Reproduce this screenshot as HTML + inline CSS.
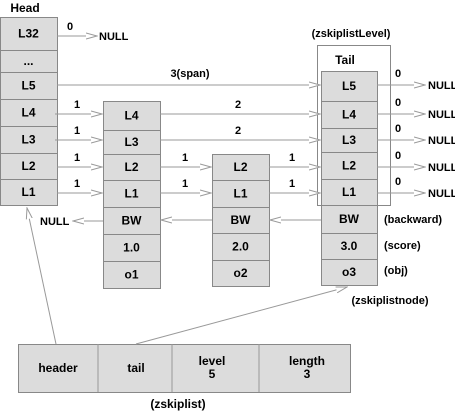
<!DOCTYPE html>
<html><head><meta charset="utf-8"><style>
body{margin:0;background:#fff}
svg text{font-family:"Liberation Sans",sans-serif;font-weight:bold;font-size:11px;fill:#000}
svg text.cl{font-size:12px}
</style></head><body>
<svg width="455" height="413" viewBox="0 0 455 413">
<defs>
<marker id="ah" markerWidth="12" markerHeight="8" refX="11" refY="4" orient="auto" markerUnits="userSpaceOnUse">
<path d="M0,1 L11,4 L0,7" fill="#fff" stroke="#999" stroke-width="1"/>
</marker>
</defs>
<g id="cells" stroke="#888" stroke-width="1" fill="#dcdcdc"></g>
<g id="lines" stroke="#999" stroke-width="1" fill="none"></g>
<g id="labels"></g>
</svg>
<script>
const ns='http://www.w3.org/2000/svg';
const cells=document.getElementById('cells'),lines=document.getElementById('lines'),labels=document.getElementById('labels');
function rect(x,y,w,h,name,fill){const r=document.createElementNS(ns,'rect');r.setAttribute('x',x+.5);r.setAttribute('y',y+.5);r.setAttribute('width',w);r.setAttribute('height',h);if(fill)r.setAttribute('fill',fill);


cells.appendChild(r);}
function txt(x,y,s,name,anchor,cls){const t=document.createElementNS(ns,'text');t.setAttribute('x',x);t.setAttribute('y',y);t.setAttribute('text-anchor',anchor||'middle');if(cls)t.setAttribute('class',cls);t.textContent=s;


labels.appendChild(t);}
function line(x1,y1,x2,y2,name,arrow){const l=document.createElementNS(ns,'line');l.setAttribute('x1',x1);l.setAttribute('y1',y1);l.setAttribute('x2',x2);l.setAttribute('y2',y2);if(arrow)l.setAttribute('marker-end','url(#ah)');


lines.appendChild(l);}
function col(x,w,rows,prefix){rows.forEach(r=>{rect(x,r[1],w,r[2]-r[1],prefix+'-cell');txt(x+w/2,(r[1]+r[2])/2+4,r[0],prefix+'-label','middle','cl');});}
rect(317,45,73,160,'tail-level-box','#fff');
col(0,57,[['L32',17,50],['...',50,72],['L5',72,99],['L4',99,126],['L3',126,153],['L2',153,179],['L1',179,205]],'head');
col(103,57,[['L4',101,130],['L3',130,154],['L2',154,180],['L1',180,207],['BW',207,234],['1.0',234,261],['o1',261,288]],'node1');
col(212,57,[['L2',154,180],['L1',180,207],['BW',207,233],['2.0',233,260],['o2',260,286]],'node2');
col(321,56,[['L5',71,101],['L4',101,128],['L3',128,152],['L2',152,179],['L1',179,205],['BW',205,233],['3.0',233,259],['o3',259,285]],'tail-node');
txt(25,12,'Head','head-title','middle','cl');
txt(345,64,'Tail','tail-title','middle','cl');
txt(351,37,'(zskiplistLevel)','zskiplistlevel-label');
line(57,36,97,36,'l32-pointer',true);txt(99,40,'NULL','null-label','start');txt(70,30,'0','span-label');
line(57,85,320,85,'l5-pointer',true);txt(190,77,'3(span)','span-label');
[[114,'l4'],[140,'l3']].forEach(([y,n])=>{line(55,y,102,y,n+'-head-pointer',true);txt(77,y-6,'1','span-label');line(160,y,320,y,n+'-node1-pointer',true);txt(238,y-6,'2','span-label');});
[[167,'l2'],[193,'l1']].forEach(([y,n])=>{line(57,y,102,y,n+'-head-pointer',true);txt(77,y-6,'1','span-label');line(160,y,211,y,n+'-node1-pointer',true);txt(185,y-6,'1','span-label');line(269,y,320,y,n+'-node2-pointer',true);txt(292,y-6,'1','span-label');});
[85,114,140,167,193].forEach(y=>{line(377,y,425,y,'tail-null-pointer',true);txt(428,y+4,'NULL','null-label','start');txt(398,y-8,'0','span-label');});
line(321,220,270,220,'backward-pointer',true);line(212,220,161,220,'backward-pointer',true);line(103,221,73,221,'backward-pointer',true);
txt(40,225,'NULL','null-label','start');
txt(384,223,'(backward)','backward-label','start');txt(384,249,'(score)','score-label','start');txt(384,274,'(obj)','obj-label','start');
txt(390,304,'(zskiplistnode)','zskiplistnode-label');
rect(18,344,332,48,'zskiplist-box');
[98,172,259].forEach(x=>line(x,344,x,392,'zskiplist-divider'));
txt(58,372,'header','header-field','middle','cl');txt(136,372,'tail','tail-field','middle','cl');
txt(212,365,'level','level-field','middle','cl');txt(212,378,'5','level-value','middle','cl');
txt(307,365,'length','length-field','middle','cl');txt(307,378,'3','length-value','middle','cl');
txt(178,408,'(zskiplist)','zskiplist-label','middle','cl');
line(56,344,27,208,'header-pointer',true);
line(136,344,347,287,'tail-pointer',true);
</script>
</body></html>
